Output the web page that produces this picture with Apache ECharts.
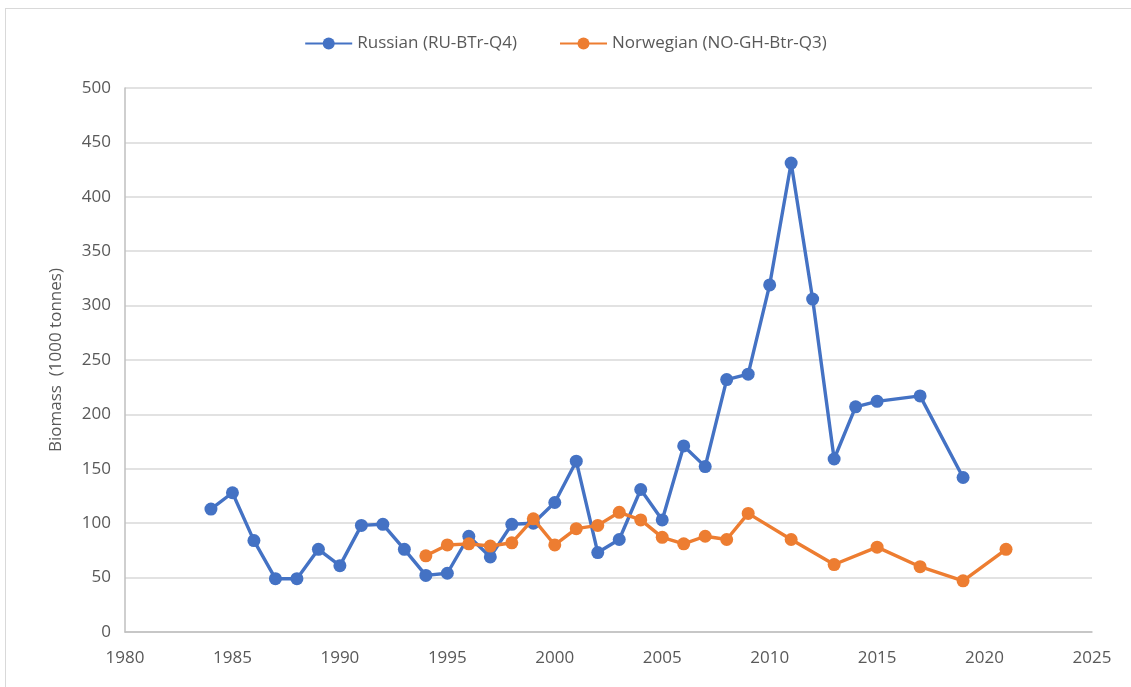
<!DOCTYPE html>
<html>
<head>
<meta charset="utf-8">
<script src="https://cdn.jsdelivr.net/npm/echarts@6/dist/echarts.min.js"></script>
<style>
  html, body { margin: 0; padding: 0; background: #ffffff; }
  #frame { position: absolute; left: 5px; top: 8px; width: 1140px; height: 700px; border: 1px solid #d9d9d9; box-sizing: border-box; }
  #chart { position: absolute; left: 0; top: 0; width: 1131px; height: 687px; }
</style>
</head>
<body>
<div id="frame"></div>
<div id="chart"></div>
<script>
// Survey biomass indices (1000 tonnes)
const russianYears = [1984, 1985, 1986, 1987, 1988, 1989, 1990, 1991, 1992, 1993, 1994, 1995, 1996, 1997, 1998, 1999, 2000, 2001, 2002, 2003, 2004, 2005, 2006, 2007, 2008, 2009, 2010, 2011, 2012, 2013, 2014, 2015, 2017, 2019];
const russianValues = [113, 128, 84, 49, 49, 76, 61, 98, 99, 76, 52, 54, 88, 69, 99, 100, 119, 157, 73, 85, 131, 103, 171, 152, 232, 237, 319, 431, 306, 159, 207, 212, 217, 142];

const norwegianYears = [1994, 1995, 1996, 1997, 1998, 1999, 2000, 2001, 2002, 2003, 2004, 2005, 2006, 2007, 2008, 2009, 2011, 2013, 2015, 2017, 2019, 2021];
const norwegianValues = [70, 80, 81, 79, 82, 104, 80, 95, 98, 110, 103, 87, 81, 88, 85, 109, 85, 62, 78, 60, 47, 76];

const seriesNames = ['Russian (RU-BTr-Q4)', 'Norwegian (NO-GH-Btr-Q3)'];
const axisTitle = 'Biomass  (1000 tonnes)';

const pair = (xs, ys) => xs.map((x, i) => [x, ys[i]]);

const chart = echarts.init(document.getElementById('chart'), null, { renderer: 'canvas' });
const font = 'Open Sans, Noto Sans, Liberation Sans, sans-serif';

chart.setOption({
  animation: false,
  backgroundColor: 'transparent',
  textStyle: { fontFamily: font },
  legend: {
    top: 30,
    left: 'center',
    itemGap: 42,
    itemWidth: 47,
    itemHeight: 15,
    textStyle: { fontSize: 17, color: '#595959', fontFamily: font },
    data: seriesNames
  },
  grid: { left: 125, right: 39, top: 88, bottom: 55, containLabel: false },
  xAxis: {
    type: 'value',
    min: 1980,
    max: 2025,
    interval: 5,
    axisLine: { show: true, lineStyle: { color: '#bfbfbf', width: 1.5 } },
    axisTick: { show: false },
    splitLine: { show: false },
    axisLabel: {
      color: '#595959', fontSize: 17, margin: 18, fontFamily: font,
      formatter: v => String(v)
    }
  },
  yAxis: {
    type: 'value',
    min: 0,
    max: 500,
    interval: 50,
    name: axisTitle,
    nameLocation: 'middle',
    nameGap: 60,
    nameTextStyle: { color: '#595959', fontSize: 17, fontFamily: font },
    axisLine: { show: true, lineStyle: { color: '#bfbfbf', width: 1.5 } },
    axisTick: { show: false },
    splitLine: { show: true, lineStyle: { color: '#d9d9d9', width: 1.5 } },
    axisLabel: { color: '#595959', fontSize: 17, margin: 14, fontFamily: font }
  },
  series: [
    {
      name: seriesNames[0],
      type: 'line',
      data: pair(russianYears, russianValues),
      symbol: 'circle',
      symbolSize: 13,
      lineStyle: { color: '#4472C4', width: 3.4 },
      itemStyle: { color: '#4472C4' },
      z: 3
    },
    {
      name: seriesNames[1],
      type: 'line',
      data: pair(norwegianYears, norwegianValues),
      symbol: 'circle',
      symbolSize: 13,
      lineStyle: { color: '#ED7D31', width: 3.4 },
      itemStyle: { color: '#ED7D31' },
      z: 4
    }
  ]
});
</script>
</body>
</html>
